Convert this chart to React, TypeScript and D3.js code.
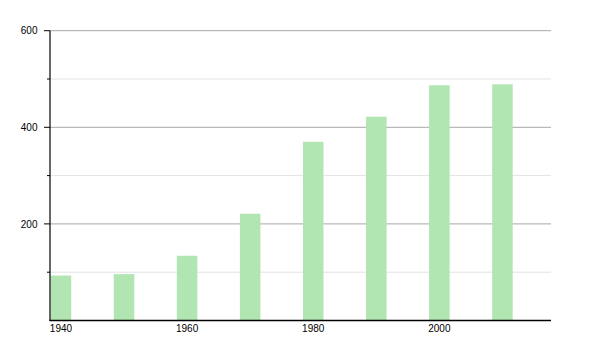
import React from "react";
import * as d3 from "d3";

const years = [1940, 1950, 1960, 1970, 1980, 1990, 2000, 2010];
const values = [93, 96, 134, 221, 370, 422, 487, 489];
const xTickLabels = [1940, 1960, 1980, 2000];
const yMajorTicks = [200, 400, 600];
const yMinorTicks = [100, 300, 500];

const W = 600;
const H = 350;

export default function App() {
  const x = d3.scaleLinear().domain([1938.26, 2017.7]).range([50, 551]);
  const y = d3.scaleLinear().domain([0, 600]).range([320.5, 30.7]);
  const barW = 20.5;
  const font = "'Liberation Sans', Arial, Helvetica, sans-serif";

  return (
    <div style={{ position: "fixed", left: 0, top: 0 }}>
      <svg width={W} height={H} style={{ display: "block", background: "#fff" }}>
        {yMinorTicks.map((t) => (
          <g key={"mn" + t}>
            <line x1={50} x2={551} y1={y(t)} y2={y(t)} stroke="#e3e3e3" strokeWidth={1} />
            <line x1={47} x2={50} y1={y(t)} y2={y(t)} stroke="#000" strokeWidth={1} />
          </g>
        ))}
        {yMajorTicks.map((t) => (
          <g key={"mj" + t}>
            <line x1={50} x2={551} y1={y(t)} y2={y(t)} stroke="#a8a8a8" strokeWidth={1} />
            <line x1={44} x2={50} y1={y(t)} y2={y(t)} stroke="#000" strokeWidth={1} />
            <text x={37.5} y={y(t) + 3.6} textAnchor="end" fontSize={10} fontFamily={font} fill="#000">
              {t}
            </text>
          </g>
        ))}
        {years.map((yr, i) => (
          <rect
            key={yr}
            x={x(yr) - barW / 2}
            y={y(values[i])}
            width={barW}
            height={y(0) - y(values[i])}
            fill="#b1e5b1"
          />
        ))}
        <line x1={50} x2={50} y1={30.7} y2={y(0) + 0.5} stroke="#000" strokeWidth={1.2} />
        <line x1={49.5} x2={551} y1={y(0)} y2={y(0)} stroke="#000" strokeWidth={1.3} />
        {xTickLabels.map((t) => (
          <text key={"xl" + t} x={x(t)} y={332} textAnchor="middle" fontSize={10} fontFamily={font} fill="#000">
            {t}
          </text>
        ))}
      </svg>
    </div>
  );
}
